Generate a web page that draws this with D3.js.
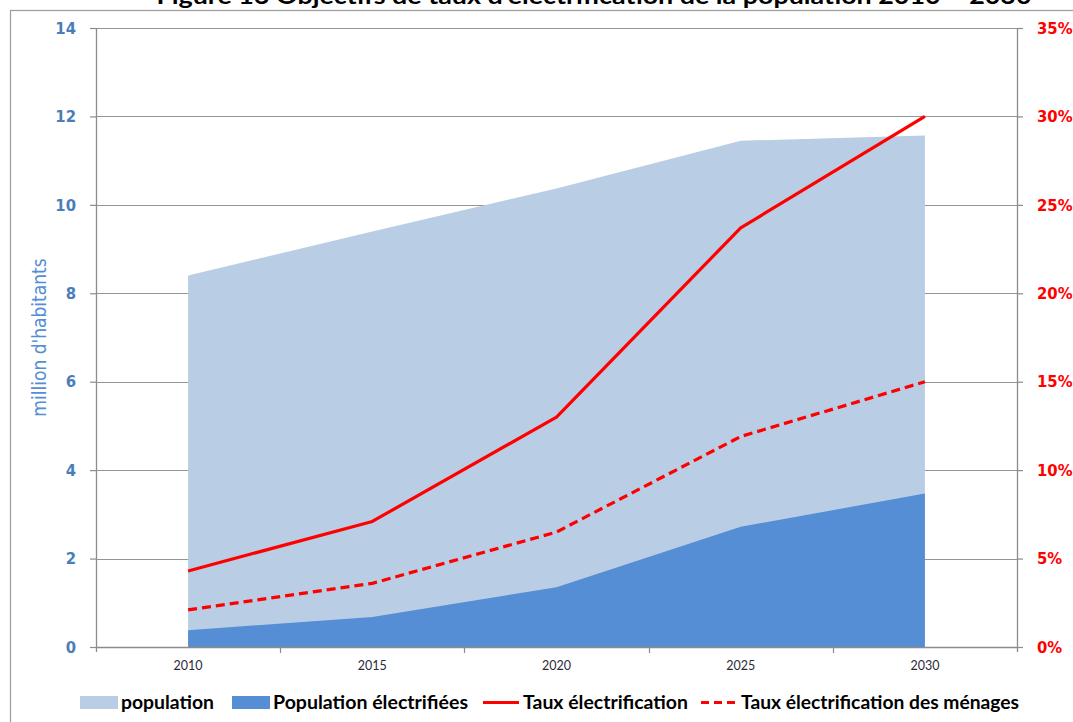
<!DOCTYPE html>
<html>
<head>
<meta charset="utf-8">
<script src="https://cdn.jsdelivr.net/npm/d3@7"></script>
<style>
  body { margin: 0; background: #fff; }
  svg { display: block; }
</style>
</head>
<body>
<svg id="chart"></svg>
<script>
// values
const years = ["2010", "2015", "2020", "2025", "2030"]
const population = [8.40, 9.40, 10.37, 11.45, 11.57]          // million d'habitants
const populationElectrifiee = [0.38, 0.68, 1.35, 2.72, 3.47]   // million d'habitants
const tauxElectrification = [0.043, 0.071, 0.130, 0.237, 0.300]
const tauxMenages = [0.021, 0.036, 0.065, 0.119, 0.150]
const leftTicks = [0, 2, 4, 6, 8, 10, 12, 14]
const rightTicks = [0, 0.05, 0.10, 0.15, 0.20, 0.25, 0.30, 0.35]

const svgWidth = 1073, svgHeight = 722
const margin = { top: 28, right: 56, bottom: 75, left: 96 }
const width = svgWidth - margin.left - margin.right
const height = svgHeight - margin.top - margin.bottom

const blueText = "#4a7ebb", red = "#ff0000"
const lightFill = "#b9cde5", darkFill = "#558ed5"

const svg = d3.select("#chart")
              .attr("width", svgWidth)
              .attr("height", svgHeight)

// outer chart frame (mostly cut by the picture)
svg.append("rect")
  .attr("x", 10.5).attr("y", 10.5)
  .attr("width", svgWidth + 20).attr("height", svgHeight + 20)
  .attr("fill", "none")
  .attr("stroke", "#a0a0a0")
  .attr("stroke-width", 1.3)

// title, clipped at the top as in the reference
svg.append("text")
  .attr("x", 594)
  .attr("y", 4)
  .attr("text-anchor", "middle")
  .attr("font-family", "Lato, 'Open Sans', sans-serif")
  .attr("font-weight", "bold")
  .attr("font-size", 22)
  .attr("textLength", 875)
  .attr("lengthAdjust", "spacingAndGlyphs")
  .attr("fill", "#000")
  .text("Figure 13 Objectifs de taux d'électrification de la population 2010 – 2030")

const g = svg.append("g")
              .attr("transform", "translate(" + margin.left + "," + margin.top + ")")

const xs = d3.scaleBand().domain(years).range([0, width]).padding(0)
const xc = d => xs(d) + xs.bandwidth() / 2
const ys = d3.scaleLinear().domain([0, 14]).range([height, 0])
const yr = d3.scaleLinear().domain([0, 0.35]).range([height, 0])

// horizontal gridlines
g.append("g")
  .selectAll("line")
  .data(leftTicks.slice(1))
  .join("line")
    .attr("x1", 0).attr("x2", width)
    .attr("y1", d => Math.round(ys(d)) + 0.5)
    .attr("y2", d => Math.round(ys(d)) + 0.5)
    .attr("stroke", "#959595")
    .attr("stroke-width", 1.2)

const rows = years.map((y, i) => ({
  year: y,
  pop: population[i],
  elec: populationElectrifiee[i],
  taux: tauxElectrification[i],
  menages: tauxMenages[i]
}))

// areas
const areaPop = d3.area().x(d => xc(d.year)).y0(height).y1(d => ys(d.pop))
const areaElec = d3.area().x(d => xc(d.year)).y0(height).y1(d => ys(d.elec))

g.append("path").datum(rows).attr("fill", lightFill).attr("d", areaPop)
g.append("path").datum(rows).attr("fill", darkFill).attr("d", areaElec)

// x axis
g.append("g")
  .attr("transform", `translate(0,${height})`)
  .call(d3.axisBottom(xs).tickSize(0).tickPadding(14))
  .call(a => a.select(".domain").attr("stroke", "#8c8c8c").attr("stroke-width", 1.3))
  .call(a => a.selectAll("text")
      .attr("font-family", "Lato, sans-serif")
      .attr("font-size", 12.5)
      .attr("fill", "#2b2b3a"))

// tick marks between categories
g.append("g")
  .selectAll("line")
  .data(years.slice(1))
  .join("line")
    .attr("x1", d => Math.round(xs(d)) + 0.5)
    .attr("x2", d => Math.round(xs(d)) + 0.5)
    .attr("y1", height).attr("y2", height + 6)
    .attr("stroke", "#8c8c8c")
    .attr("stroke-width", 1.2)

// left axis
g.append("g")
  .call(d3.axisLeft(ys).tickValues(leftTicks).tickSizeInner(6).tickSizeOuter(0).tickPadding(14))
  .call(a => a.select(".domain").attr("stroke", "#8c8c8c").attr("stroke-width", 1.3)
      .attr("d", `M0.5,0V${height + 5}`))
  .call(a => a.selectAll(".tick line").attr("stroke", "#8c8c8c").attr("stroke-width", 1.2))
  .call(a => a.selectAll("text")
      .attr("font-family", "'DejaVu Sans Condensed', 'DejaVu Sans', sans-serif")
      .attr("font-weight", "bold")
      .attr("font-size", 16.5)
      .attr("fill", blueText))

// left axis title
g.append("text")
  .attr("transform", `translate(${-50},${ys(7)}) rotate(-90)`)
  .attr("text-anchor", "middle")
  .attr("font-family", "'DejaVu Sans Condensed', 'DejaVu Sans', sans-serif")
  .attr("font-size", 19)
  .attr("fill", darkFill)
  .text("million d'habitants")

// right axis
g.append("g")
  .attr("transform", `translate(${width},0)`)
  .call(d3.axisRight(yr).tickValues(rightTicks).tickFormat(d3.format(".0%"))
      .tickSizeInner(6).tickSizeOuter(0).tickPadding(14))
  .call(a => a.select(".domain").attr("stroke", "#8c8c8c").attr("stroke-width", 1.3)
      .attr("d", `M0.5,0V${height + 5}`))
  .call(a => a.selectAll(".tick line").attr("stroke", "#8c8c8c").attr("stroke-width", 1.2))
  .call(a => a.selectAll("text")
      .attr("text-anchor", "start")
      .attr("font-family", "'DejaVu Sans Condensed', 'DejaVu Sans', sans-serif")
      .attr("font-weight", "bold")
      .attr("font-size", 16.5)
      .attr("fill", red))

// lines on the right-hand scale
const lineTaux = d3.line().x(d => xc(d.year)).y(d => yr(d.taux))
const lineMenages = d3.line().x(d => xc(d.year)).y(d => yr(d.menages))

g.append("path")
  .datum(rows)
  .attr("fill", "none")
  .attr("stroke", red)
  .attr("stroke-width", 3.2)
  .attr("stroke-linejoin", "round")
  .attr("d", lineTaux)

g.append("path")
  .datum(rows)
  .attr("fill", "none")
  .attr("stroke", red)
  .attr("stroke-width", 3.2)
  .attr("stroke-dasharray", "9,5")
  .attr("d", lineMenages)

// legend
const legendItems = [
  { label: "population", type: "rect", color: lightFill, x: 80, w: 93 },
  { label: "Population électrifiées", type: "rect", color: darkFill, x: 232, w: 195 },
  { label: "Taux électrification", type: "line", color: red, x: 482, w: 165 },
  { label: "Taux électrification des ménages", type: "dash", color: red, x: 700, w: 278 }
]
const legend = svg.append("g").attr("transform", "translate(0,702)")
const li = legend.selectAll("g").data(legendItems).join("g")
  .attr("transform", d => `translate(${d.x},0)`)
li.filter(d => d.type === "rect").append("rect")
  .attr("x", 0).attr("y", -6).attr("width", 38).attr("height", 13)
  .attr("fill", d => d.color)
li.filter(d => d.type !== "rect").append("line")
  .attr("x1", 1).attr("x2", 37).attr("y1", 0.5).attr("y2", 0.5)
  .attr("stroke", d => d.color)
  .attr("stroke-width", 3.2)
  .attr("stroke-dasharray", d => d.type === "dash" ? "8,5" : null)
li.append("text")
  .attr("x", 41)
  .attr("y", 6.5)
  .attr("font-family", "Lato, sans-serif")
  .attr("font-weight", "bold")
  .attr("font-size", 19)
  .attr("textLength", d => d.w)
  .attr("lengthAdjust", "spacingAndGlyphs")
  .attr("fill", "#000")
  .text(d => d.label)
</script>
</body>
</html>
